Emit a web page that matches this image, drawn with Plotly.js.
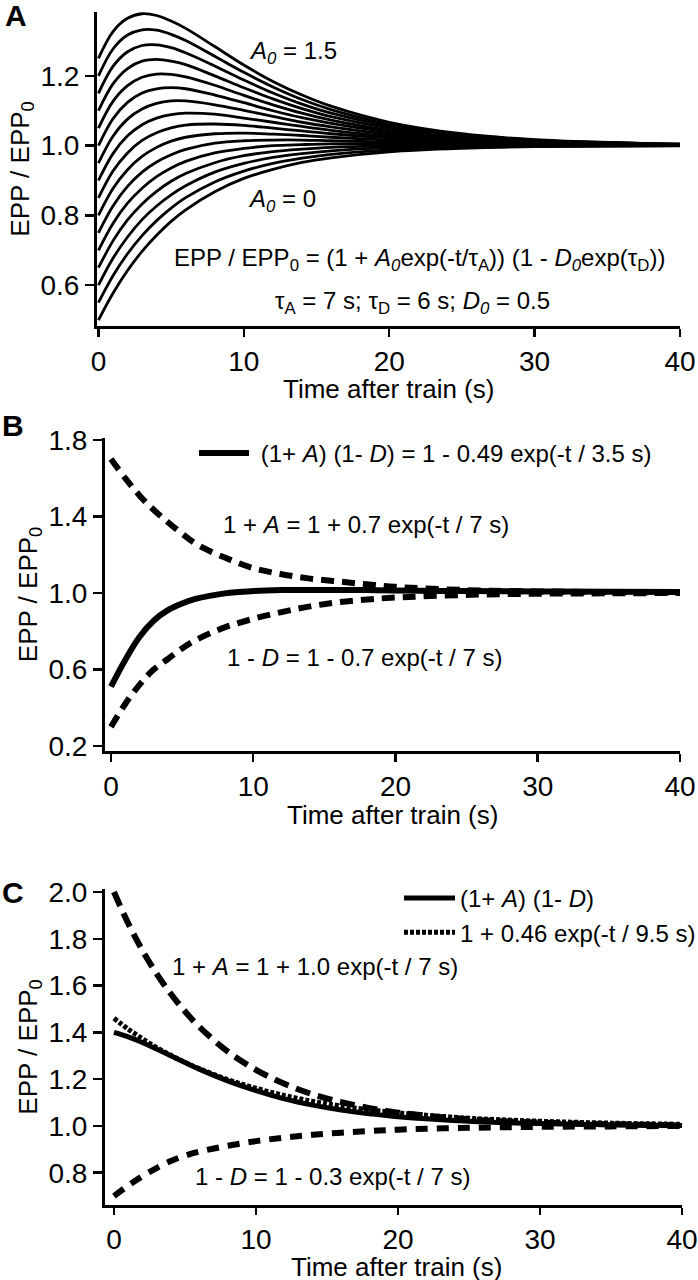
<!DOCTYPE html>
<html><head><meta charset="utf-8">
<script src="https://cdn.plot.ly/plotly-3.0.1.min.js"></script>
<style>html,body{margin:0;padding:0;background:#fff;overflow:hidden;width:698px;height:1280px}#chart{width:698px;height:1280px;display:block}</style>
</head><body><div id="chart"></div>
<script>
// ---------- Panel A: family of curves, A0 = 0 ... 1.5 ----------
const timeA = [0,1,2,3,4,5,6,8,10,12,14,16,20,25,30,40];
const A0values = [0,0.1,0.2,0.3,0.4,0.5,0.6,0.7,0.8,0.9,1.0,1.1,1.2,1.3,1.4,1.5];
const eppA = [
  [0.500,0.577,0.642,0.697,0.743,0.783,0.816,0.868,0.906,0.932,0.952,0.965,0.982,0.992,0.997,0.999],
  [0.550,0.627,0.690,0.742,0.785,0.821,0.851,0.896,0.927,0.949,0.964,0.975,0.988,0.995,0.998,1.000],
  [0.600,0.677,0.738,0.788,0.827,0.859,0.885,0.924,0.949,0.966,0.977,0.985,0.994,0.998,0.999,1.000],
  [0.650,0.727,0.787,0.833,0.869,0.898,0.920,0.951,0.971,0.983,0.990,0.995,0.999,1.001,1.001,1.000],
  [0.700,0.777,0.835,0.878,0.911,0.936,0.955,0.979,0.992,1.000,1.003,1.005,1.005,1.004,1.002,1.001],
  [0.750,0.827,0.883,0.924,0.953,0.974,0.989,1.007,1.014,1.016,1.016,1.014,1.010,1.006,1.004,1.001],
  [0.800,0.877,0.931,0.969,0.995,1.013,1.024,1.034,1.036,1.033,1.029,1.024,1.016,1.009,1.005,1.001],
  [0.850,0.927,0.979,1.015,1.037,1.051,1.059,1.062,1.058,1.050,1.042,1.034,1.022,1.012,1.006,1.002],
  [0.900,0.977,1.028,1.060,1.079,1.089,1.093,1.090,1.079,1.067,1.055,1.044,1.027,1.015,1.008,1.002],
  [0.950,1.027,1.076,1.105,1.121,1.128,1.128,1.117,1.101,1.084,1.067,1.054,1.033,1.017,1.009,1.002],
  [1.000,1.077,1.124,1.151,1.163,1.166,1.163,1.145,1.123,1.100,1.080,1.064,1.039,1.020,1.010,1.003],
  [1.050,1.127,1.172,1.196,1.205,1.204,1.197,1.173,1.144,1.117,1.093,1.073,1.044,1.023,1.012,1.003],
  [1.100,1.177,1.221,1.242,1.247,1.242,1.232,1.200,1.166,1.134,1.106,1.083,1.050,1.026,1.013,1.003],
  [1.150,1.227,1.269,1.287,1.289,1.281,1.266,1.228,1.188,1.151,1.119,1.093,1.056,1.029,1.015,1.004],
  [1.200,1.277,1.317,1.332,1.331,1.319,1.301,1.256,1.210,1.168,1.132,1.103,1.061,1.031,1.016,1.004],
  [1.250,1.327,1.365,1.378,1.373,1.357,1.336,1.284,1.231,1.184,1.145,1.113,1.067,1.034,1.017,1.004]
];

// ---------- Panel B ----------
const timeB    = [0,1,2,3,4,5,6,8,10,12,14,16,18,20,25,30,35,40];
const productB = [0.51,0.65,0.77,0.855,0.91,0.945,0.97,0.998,1.01,1.015,1.016,1.016,1.015,1.013,1.01,1.008,1.006,1.005];
const facilB   = [1.70,1.60,1.51,1.435,1.37,1.31,1.255,1.185,1.13,1.098,1.075,1.06,1.045,1.032,1.015,1.008,1.005,1.004];
const deprB    = [0.30,0.42,0.52,0.60,0.655,0.71,0.755,0.82,0.865,0.90,0.93,0.952,0.966,0.976,0.99,0.996,0.998,1.0];

// ---------- Panel C ----------
const timeC    = [0,1,2,3,4,5,6,8,10,12,14,16,18,20,25,30,35,40];
const productC = [1.400,1.381,1.357,1.329,1.300,1.271,1.243,1.193,1.151,1.116,1.089,1.068,1.052,1.039,1.020,1.010,1.005,1.002];
const fitC     = [1.460,1.414,1.373,1.335,1.302,1.272,1.245,1.198,1.161,1.130,1.105,1.085,1.069,1.056,1.033,1.020,1.012,1.007];
const facilC   = [2.000,1.867,1.751,1.651,1.565,1.490,1.424,1.319,1.240,1.180,1.135,1.102,1.076,1.057,1.028,1.014,1.007,1.003];
const deprC    = [0.70,0.745,0.785,0.82,0.85,0.873,0.89,0.915,0.935,0.95,0.962,0.971,0.978,0.984,0.992,0.996,0.998,1.0];

// ---------- Tick labels ----------
const ticksX  = [0,10,20,30,40];
const ticksYA = [0.6,0.8,1.0,1.2];
const ticksYB = [0.2,0.6,1.0,1.4,1.8];
const ticksYC = [0.8,1.0,1.2,1.4,1.6,1.8,2.0];

// ---------- Build ----------
const W = 698, H = 1280;
const FONT = 'Liberation Sans, Arial, Helvetica, sans-serif';
const px = v => v / W;
const py = v => 1 - v / H;

const traces = [];
eppA.forEach((ys, i) => {
  traces.push({x: timeA, y: ys, xaxis: 'x', yaxis: 'y', mode: 'lines',
    name: 'A0 = ' + A0values[i], showlegend: false,
    line: {color: '#000', width: 2.8, shape: 'spline', smoothing: 1}});
});
traces.push({x: timeB, y: facilB, xaxis: 'x2', yaxis: 'y2', mode: 'lines', showlegend: false,
  line: {color: '#000', width: 6, dash: '13px,8px', shape: 'spline'}});
traces.push({x: timeB, y: deprB, xaxis: 'x2', yaxis: 'y2', mode: 'lines', showlegend: false,
  line: {color: '#000', width: 6, dash: '13px,8px', shape: 'spline'}});
traces.push({x: timeB, y: productB, xaxis: 'x2', yaxis: 'y2', mode: 'lines', legend: 'legend',
  name: '&nbsp;(1+ <i>A</i>) (1- <i>D</i>) = 1 - 0.49 exp(-t / 3.5 s)',
  line: {color: '#000', width: 6, shape: 'spline'}});

traces.push({x: timeC, y: facilC, xaxis: 'x3', yaxis: 'y3', mode: 'lines', showlegend: false,
  line: {color: '#000', width: 6, dash: '15px,8px', shape: 'spline'}});
traces.push({x: timeC, y: deprC, xaxis: 'x3', yaxis: 'y3', mode: 'lines', showlegend: false,
  line: {color: '#000', width: 6, dash: '12px,9px', shape: 'spline'}});
traces.push({x: timeC, y: productC, xaxis: 'x3', yaxis: 'y3', mode: 'lines', legend: 'legend2',
  name: '(1+ <i>A</i>) (1- <i>D</i>)',
  line: {color: '#000', width: 5, shape: 'spline'}});
traces.push({x: timeC, y: fitC, xaxis: 'x3', yaxis: 'y3', mode: 'lines', legend: 'legend2',
  name: '1 + 0.46 exp(-t / 9.5 s)',
  line: {color: '#000', width: 5, dash: '4px,2px', shape: 'spline'}});

function xAx(dom, range, anchor, tl) {
  return {domain: dom, range: range, anchor: anchor, tickvals: ticksX,
    showline: true, linewidth: 3, linecolor: '#000', ticks: 'outside', ticklen: tl || 8, tickwidth: 2.5,
    tickcolor: '#000', showgrid: false, zeroline: false, fixedrange: true, automargin: false,
    tickfont: {size: 28, color: '#000', family: FONT}};
}
function yAx(dom, range, anchor, tv) {
  return {domain: dom, range: range, anchor: anchor, tickvals: tv, tickformat: '.1f',
    showline: true, linewidth: 3, linecolor: '#000', ticks: 'outside', ticklen: 9, tickwidth: 2.5,
    tickcolor: '#000', showgrid: false, zeroline: false, fixedrange: true, automargin: false,
    tickfont: {size: 28, color: '#000', family: FONT},
    title: {text: 'EPP / EPP<sub>0</sub>', font: {size: 26, color: '#000', family: FONT}, standoff: 4}};
}

function ann(text, x, y, size, bold, anchor) {
  return {text: bold ? '<b>' + text + '</b>' : text, x: px(x), y: py(y), xref: 'paper', yref: 'paper',
    xanchor: anchor || 'left', yanchor: 'middle', showarrow: false,
    font: {size: size, color: '#000', family: FONT}};
}

const layout = {
  width: W, height: H, margin: {l: 0, r: 0, t: 0, b: 0, autoexpand: false},
  paper_bgcolor: '#fff', plot_bgcolor: '#fff',
  font: {family: FONT, color: '#000'},
  xaxis:  xAx([px(97), px(680)], [-0.1, 40], 'y'),
  yaxis:  yAx([py(326), py(12)], [0.483, 1.383], 'x', ticksYA),
  xaxis2: xAx([px(105), px(680)], [-0.42, 40], 'y2'),
  yaxis2: yAx([py(751), py(438)], [0.174, 1.81], 'x2', ticksYB),
  xaxis3: xAx([px(105), px(682)], [-0.63, 40], 'y3', 7),
  yaxis3: yAx([py(1205), py(889)], [0.662, 2.013], 'x3', ticksYC),
  legend:  {x: px(194), y: py(431), xanchor: 'left', yanchor: 'top', bgcolor: 'rgba(0,0,0,0)',
            font: {size: 24, color: '#000', family: FONT}, itemwidth: 50},
  legend2: {x: px(399), y: py(876), xanchor: 'left', yanchor: 'top', bgcolor: 'rgba(0,0,0,0)',
            font: {size: 24, color: '#000', family: FONT}, itemwidth: 51, tracegroupgap: 0},
  annotations: [
    ann('A', 3, 15, 30, true),
    ann('B', 0, 426, 30, true),
    ann('C', 0, 892, 30, true),
    ann('Time after train (s)', 388.5, 389, 26, false, 'center'),
    ann('Time after train (s)', 392.5, 815, 26, false, 'center'),
    ann('Time after train (s)', 396, 1267, 26, false, 'center'),
    ann('<i>A<sub>0</sub></i> = 1.5', 247, 52, 24),
    ann('<i>A<sub>0</sub></i> = 0', 246, 201, 24),
    ann('EPP / EPP<sub>0</sub> = (1 + <i>A<sub>0</sub></i>exp(-t/τ<sub>A</sub>)) (1 - <i>D<sub>0</sub></i>exp(τ<sub>D</sub>))', 172, 259, 24),
    ann('τ<sub>A</sub> = 7 s; τ<sub>D</sub> = 6 s; <i>D<sub>0</sub></i> = 0.5', 273, 302, 24),
    ann('1 + <i>A</i> = 1 + 0.7 exp(-t / 7 s)', 221, 524, 24),
    ann('1 - <i>D</i> = 1 - 0.7 exp(-t / 7 s)', 225, 657, 24),
    ann('1 + <i>A</i> = 1 + 1.0 exp(-t / 7 s)', 170, 966, 24),
    ann('1 - <i>D</i> = 1 - 0.3 exp(-t / 7 s)', 193, 1176, 24)
  ]
};

Plotly.newPlot('chart', traces, layout, {staticPlot: true, displayModeBar: false});
</script></body></html>
